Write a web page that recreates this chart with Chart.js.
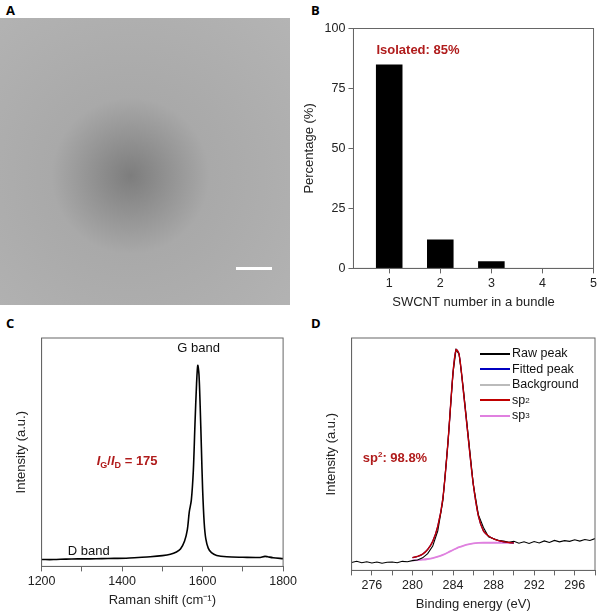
<!DOCTYPE html>
<html>
<head>
<meta charset="utf-8">
<script src="https://cdn.jsdelivr.net/npm/chart.js@4"></script>
<style>
    body { margin: 0; background: #fff; font-family: 'Liberation Sans', Arial, sans-serif; }
    .wrap { position: relative; width: 600px; height: 612px; }
    .panel { position: absolute; }
    .tag { position: absolute; font: bold 13px 'Open Sans', sans-serif; color: #000; }
    #tem { position: absolute; left: 0; top: 18px; width: 290px; height: 287px;
        background: radial-gradient(ellipse at 45% 55%, #7d7d7d 0%, #a9a9a9 35%, #b4b4b4 100%); }
    #tem .bar { position: absolute; left: 236px; top: 249px; width: 36px; height: 3px; background: #fff; }
    .legend { position: absolute; left: 480px; top: 346px; font-size: 12.5px; color: #111; line-height: 15.5px; }
    .legend div { display: flex; align-items: center; }
    .legend span.l { display: inline-block; width: 30px; height: 2px; margin-right: 2px; }
</style>
</head>
<body>
<div class="wrap">
    <div class="tag" style="left:6px;top:1px">A</div>
    <div class="tag" style="left:311px;top:1px">B</div>
    <div class="tag" style="left:6px;top:314px">C</div>
    <div class="tag" style="left:311px;top:314px">D</div>
    <div id="tem"><div class="bar"></div></div>
    <div class="panel" style="left:296px;top:18px;width:304px;height:292px"><canvas id="chartB"></canvas></div>
    <div class="panel" style="left:0;top:330px;width:300px;height:282px"><canvas id="chartC"></canvas></div>
    <div class="panel" style="left:300px;top:330px;width:300px;height:282px"><canvas id="chartD"></canvas></div>
    <div class="legend">
        <div><span class="l" style="background:#000"></span>Raw peak</div>
        <div><span class="l" style="background:#0000c0"></span>Fitted peak</div>
        <div><span class="l" style="background:#bbb"></span>Background</div>
        <div><span class="l" style="background:#c00000"></span>sp<sup style="font-size:8px">2</sup></div>
        <div><span class="l" style="background:#e080e0"></span>sp<sup style="font-size:8px">3</sup></div>
    </div>
</div>
<script>
// B: bundle histogram
const bundleSizes = [1, 2, 3, 4, 5];
const bundlePercent = [85, 12, 3, 0, 0];

// C: Raman spectrum
const ramanShift = [1200, 1230, 1260, 1290, 1320, 1350, 1380, 1410, 1440, 1470, 1500, 1520, 1535, 1545, 1555, 1562, 1567, 1572, 1577, 1581, 1585, 1588, 1591, 1594, 1597, 1600, 1604, 1608, 1614, 1622, 1635, 1660, 1700, 1740, 1755, 1762, 1775, 1800];
const ramanIntensity = [3.0, 3.0, 3.2, 3.3, 3.3, 3.4, 3.5, 3.6, 3.9, 4.2, 4.7, 5.3, 6.3, 7.6, 11, 16, 24, 29, 42, 62, 80, 88, 84, 70, 52, 34, 19, 12, 8, 6, 4.8, 4.2, 4.0, 3.9, 4.4, 4.2, 3.8, 3.4];

// D: XPS C1s
const xpsEnergy = [274, 274.5, 275, 275.5, 276, 276.5, 277, 277.5, 278, 278.5, 279, 279.5, 280, 280.5, 281, 281.5, 282, 282.5, 283, 283.5, 284, 284.3, 284.6, 285, 285.5, 286, 286.5, 287, 287.5, 288, 288.5, 289, 289.5, 290, 290.5, 291, 291.5, 292, 292.5, 293, 293.5, 294, 294.5, 295, 295.5, 296, 296.5, 297, 297.5, 298];
const xpsRaw = [3.4, 3.9, 3.3, 3.7, 3.2, 3.6, 3.1, 3.5, 3.6, 3.3, 3.9, 3.7, 4.2, 4.5, 5.4, 7.2, 10.5, 17, 30, 55, 85, 95, 93, 79, 58, 37, 24, 18.5, 14.5, 13.6, 12.9, 12.6, 12.1, 12.5, 11.7, 12.3, 11.6, 12.4, 11.8, 12.7, 12.0, 12.9, 12.3, 12.8, 12.5, 13.2, 12.6, 13.3, 12.9, 13.7];
const fitEnergy = [280, 280.5, 281, 281.5, 282, 282.5, 283, 283.5, 284, 284.3, 284.6, 285, 285.5, 286, 286.5, 287, 287.5, 288, 288.5, 289, 289.5, 290];
const fitSp2 = [5.5, 6.0, 7.0, 9.0, 12.5, 19, 31, 55, 85, 95, 93, 78, 57, 37, 23.5, 17, 14.8, 13.6, 12.8, 12.3, 12.0, 11.8];
const fitSp3 = [4.3, 4.4, 4.6, 4.9, 5.3, 5.9, 6.7, 7.7, 8.8, 9.4, 10.0, 10.6, 11.2, 11.6, 11.8, 11.9, 11.9, 11.9, 11.9, 11.9, 11.9, 11.9];

const FONT = "'Liberation Sans', Arial, sans-serif";
Chart.defaults.font.family = FONT;
Chart.defaults.font.size = 12.5;
Chart.defaults.color = '#222';
Chart.defaults.animation = false;

const toXY = (xs, ys) => xs.map((x, i) => ({ x: x, y: ys[i] }));

const frame = {
    id: 'frame',
    afterDraw(chart) {
        const a = chart.chartArea, ctx = chart.ctx;
        ctx.save();
        ctx.strokeStyle = '#666';
        ctx.lineWidth = 1;
        ctx.strokeRect(a.left, a.top, a.right - a.left, a.bottom - a.top);
        ctx.restore();
    }
};

// draws text notes at data coordinates
function notes(list) {
    return {
        id: 'notes',
        afterDraw(chart) {
            const ctx = chart.ctx;
            list.forEach(n => {
                const px = chart.scales.x.getPixelForValue(n.x);
                const py = chart.scales.y.getPixelForValue(n.y);
                ctx.save();
                ctx.fillStyle = n.color || '#111';
                ctx.textBaseline = 'middle';
                ctx.textAlign = n.align || 'left';
                let cx = px;
                n.parts.forEach(p => {
                    ctx.font = (p.style || '') + ' ' + (p.size || 13) + 'px ' + FONT;
                    ctx.fillText(p.t, cx, py + (p.dy || 0));
                    cx += ctx.measureText(p.t).width;
                });
                ctx.restore();
            });
        }
    };
}

function axis(extra) {
    return Object.assign({
        border: { color: '#666' },
        grid: { drawOnChartArea: false, tickLength: 5, color: '#666', offset: false },
        ticks: { color: '#222', font: { size: 12.5 } }
    }, extra);
}

new Chart(document.getElementById('chartB'), {
    type: 'bar',
    data: {
        datasets: [{
            data: toXY(bundleSizes, bundlePercent),
            backgroundColor: '#000',
            barPercentage: 0.52,
            categoryPercentage: 1
        }]
    },
    options: {
        responsive: true, maintainAspectRatio: false,
        layout: { padding: { top: 3, right: 5, left: 2 } },
        plugins: { legend: { display: false }, tooltip: { enabled: false } },
        scales: {
            x: axis({
                type: 'linear', min: 0.3, max: 5, offset: false,
                afterBuildTicks: s => { s.ticks = bundleSizes.map(v => ({ value: v })); },
                title: { display: true, text: 'SWCNT number in a bundle', font: { size: 13 }, padding: 0 }
            }),
            y: axis({
                min: 0, max: 100,
                ticks: { stepSize: 25, color: '#222', font: { size: 12.5 } },
                title: { display: true, text: 'Percentage (%)', font: { size: 13 } }
            })
        }
    },
    plugins: [frame, notes([{ x: 0.75, y: 91, color: '#b01c1c', parts: [{ t: 'Isolated: 85%', style: 'bold', size: 13 }] }])]
});

new Chart(document.getElementById('chartC'), {
    type: 'line',
    data: {
        datasets: [{
            data: toXY(ramanShift, ramanIntensity),
            borderColor: '#000', borderWidth: 1.6, pointRadius: 0, tension: 0.3
        }]
    },
    options: {
        responsive: true, maintainAspectRatio: false,
        layout: { padding: { top: 8, right: 15, left: 10, bottom: 4 } },
        plugins: { legend: { display: false }, tooltip: { enabled: false } },
        scales: {
            x: axis({
                type: 'linear', min: 1200, max: 1800,
                ticks: { stepSize: 100, autoSkip: false, color: '#222', font: { size: 12.5 }, callback: v => Math.round(v) % 200 === 0 ? v : '' },
                title: { display: true, text: 'Raman shift (cm\u207B\u00B9)', font: { size: 13 }, padding: 0 }
            }),
            y: axis({
                min: 0, max: 100,
                grid: { display: false },
                ticks: { display: false },
                title: { display: true, text: 'Intensity (a.u.)', font: { size: 13 } }
            })
        }
    },
    plugins: [frame, notes([
        { x: 1590, y: 95.5, align: 'center', parts: [{ t: 'G band', size: 13 }] },
        { x: 1265, y: 6.5, parts: [{ t: 'D band', size: 13 }] },
        { x: 1337, y: 46, color: '#b01c1c', parts: [
            { t: 'I', style: 'italic bold', size: 13 }, { t: 'G', style: 'bold', size: 9, dy: 4 },
            { t: '/', style: 'bold', size: 13 }, { t: 'I', style: 'italic bold', size: 13 },
            { t: 'D', style: 'bold', size: 9, dy: 4 }, { t: ' = 175', style: 'bold', size: 13 }] }
    ])]
});

// first dataset is drawn on top
new Chart(document.getElementById('chartD'), {
    type: 'line',
    data: {
        datasets: [
            { data: toXY(fitEnergy, fitSp2), borderColor: '#c00000', borderWidth: 1.4, pointRadius: 0, tension: 0.3 },
            { data: toXY(xpsEnergy, xpsRaw), borderColor: '#000', borderWidth: 1.1, pointRadius: 0 },
            { data: toXY(fitEnergy, fitSp2), borderColor: '#0000c0', borderWidth: 1.2, pointRadius: 0, tension: 0.3 },
            { data: toXY(fitEnergy, fitSp3), borderColor: '#e080e0', borderWidth: 1.8, pointRadius: 0, tension: 0.3 },
            { data: toXY(fitEnergy, fitSp3), borderColor: '#bbb', borderWidth: 0.8, pointRadius: 0, tension: 0.3 }
        ]
    },
    options: {
        responsive: true, maintainAspectRatio: false,
        layout: { padding: { top: 8, right: 5, left: 20 } },
        plugins: { legend: { display: false }, tooltip: { enabled: false } },
        scales: {
            x: axis({
                type: 'linear', min: 274, max: 298,
                ticks: { stepSize: 2, autoSkip: false, maxRotation: 0, color: '#222', font: { size: 12.5 }, callback: v => Math.round(v) % 4 === 0 ? String(v) : '' },
                title: { display: true, text: 'Binding energy (eV)', font: { size: 13 }, padding: 0 }
            }),
            y: axis({
                min: 0, max: 100,
                grid: { display: false },
                ticks: { display: false },
                title: { display: true, text: 'Intensity (a.u.)', font: { size: 13 } }
            })
        }
    },
    plugins: [frame, notes([{ x: 275.1, y: 48, color: '#b01c1c', parts: [
        { t: 'sp', style: 'bold', size: 13 }, { t: '2', style: 'bold', size: 8, dy: -4 }, { t: ': 98.8%', style: 'bold', size: 13 }] }])]
});
</script>
</body>
</html>
